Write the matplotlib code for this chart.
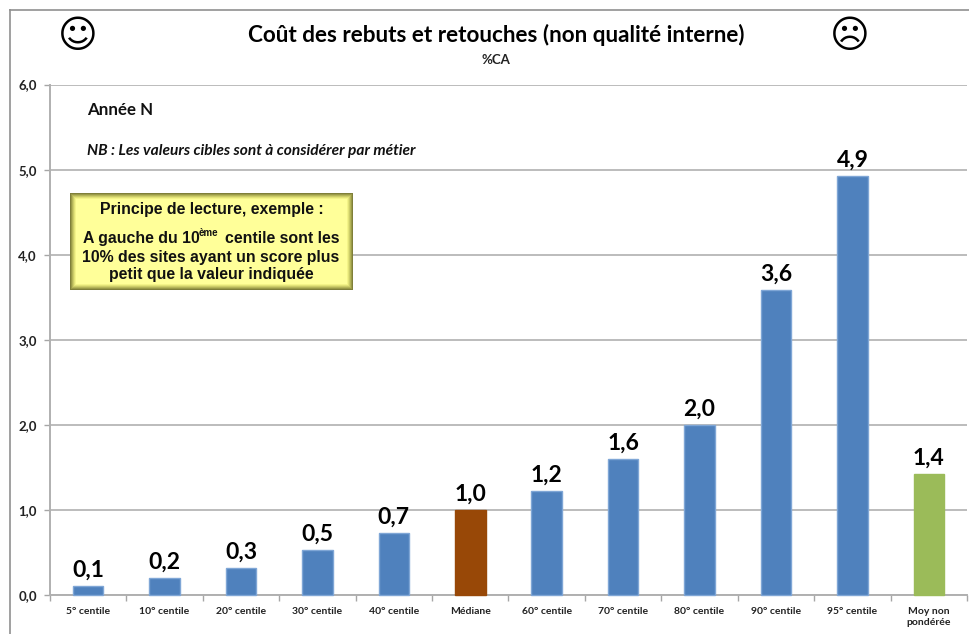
import matplotlib
matplotlib.use("Agg")
import matplotlib.pyplot as plt
from matplotlib.patches import Rectangle

categories = ["5° centile", "10° centile", "20° centile", "30° centile", "40° centile", "Médiane",
              "60° centile", "70° centile", "80° centile", "90° centile", "95° centile", "Moy non\npondérée"]
values = [0.10, 0.20, 0.32, 0.53, 0.73, 1.00, 1.22, 1.60, 2.00, 3.58, 4.92, 1.42]
colors = ["#4F81BD"] * 5 + ["#984807"] + ["#4F81BD"] * 5 + ["#9BBB59"]
edges = ["#7FA6D6"] * 5 + ["#984807"] + ["#7FA6D6"] * 5 + ["#9BBB59"]
yticks = [0, 1, 2, 3, 4, 5, 6]

W, H = 970, 634
FONT = "Lato"
GREY = "#A6A6A6"
fig = plt.figure(figsize=(W / 100, H / 100), dpi=100, facecolor="white")


def fx(x):
    return x / W


def fy(y):
    return 1 - y / H


L, R, T, B = 50, 967, 84.5, 595
ax = fig.add_axes([fx(L), fy(B), (R - L) / W, (B - T) / H])
x = list(range(len(values)))
ax.bar(x, values, width=0.40, color=colors, edgecolor=edges, linewidth=1.0, zorder=3, clip_on=False)
ax.set_xlim(-0.5, 11.5)
ax.set_ylim(0, 6)
ax.set_yticks(yticks)
ax.set_yticklabels([f"{v:.1f}".replace(".", ",") for v in yticks], fontname=FONT,
                   fontweight="bold", fontsize=9.5, color="#222222")
ax.set_xticks([i - 0.5 for i in range(13)], minor=False)
ax.set_xticklabels([])
ax.tick_params(axis="x", length=4, width=1, color=GREY, direction="out")
ax.tick_params(axis="y", length=4, width=1, color=GREY, pad=5.5)
ax.grid(axis="y", color="#A9A9A9", linewidth=1.1, zorder=0)
ax.set_axisbelow(True)
for s in ("top", "right"):
    ax.spines[s].set_visible(False)
for s in ("left", "bottom"):
    ax.spines[s].set_color("#B0B0B0")
    ax.spines[s].set_linewidth(1.4)

for i, (c, v) in enumerate(zip(categories, values)):
    ax.annotate(f"{v:.1f}".replace(".", ","), (i, v), xytext=(0, 4), textcoords="offset points",
                ha="center", va="bottom", fontname=FONT, fontweight="bold", fontsize=16.5, color="black", zorder=5)
    ax.annotate(c, (i, 0), xytext=(0, -8.5), textcoords="offset points", ha="center", va="top",
                fontname=FONT, fontweight="bold", fontsize=7.5, color="#222222", linespacing=1.3,
                annotation_clip=False)

# outer chart frame (left and top edges visible in the crop)
fig.add_artist(plt.Line2D([fx(10.5), fx(10.5)], [fy(634), fy(9.5)], color="#A0A0A0", lw=1.4))
fig.add_artist(plt.Line2D([fx(10.5), fx(970)], [fy(9.5), fy(9.5)], color="#909090", lw=1.2))

fig.text(fx(496), fy(35), "Coût des rebuts et retouches (non qualité interne)", ha="center", va="center",
         fontname=FONT, fontweight="bold", fontsize=16.2, color="black")
fig.text(fx(496), fy(60), "%CA", ha="center", va="center", fontname=FONT, fontweight="bold", fontsize=9.5, color="#222222")
fig.text(fx(87), fy(110), "Année N", ha="left", va="center", fontname=FONT, fontweight="bold", fontsize=12.2, color="#111111")
fig.text(fx(87), fy(150.5), "NB : Les valeurs cibles sont à considérer par métier", ha="left", va="center",
         fontname=FONT, fontweight="bold", style="italic", fontsize=11.2, color="#111111")

fig.text(fx(78), fy(37), "☺", ha="center", va="center", family="DejaVu Sans", fontsize=27.5, color="black")
fig.text(fx(850), fy(37), "☹", ha="center", va="center", family="DejaVu Sans", fontsize=27.5, color="black")

# yellow note with bevelled edges
bx0, by0, bx1, by1 = 70, 193, 353, 290
bevel = ["#7F7F3A", "#9A9A48", "#B4B458", "#CCCC68", "#E2E278", "#F4F488", "#FFFF99"]
for k, col in enumerate(bevel):
    fig.add_artist(Rectangle((fx(bx0 + k), fy(by1 - k)), (bx1 - bx0 - 2 * k) / W, (by1 - by0 - 2 * k) / H,
                             transform=fig.transFigure, facecolor=col, edgecolor="none", zorder=6))
note = dict(ha="center", va="center", family="Liberation Sans", fontweight="bold", fontsize=11.4, color="#111111", zorder=7)
fig.text(fx(212), fy(209.5), "Principe de lecture, exemple :", **note)
fig.text(fx(83), fy(238.5), "A gauche du 10", **{**note, "ha": "left"})
fig.text(fx(199), fy(233.5), "ème", **{**note, "ha": "left", "fontsize": 7})
fig.text(fx(225), fy(238.5), "centile sont les", **{**note, "ha": "left"})
fig.text(fx(211), fy(257.5), "10% des sites ayant un score plus", **note)
fig.text(fx(211), fy(274.5), "petit que la valeur indiquée", **note)

fig.savefig("out.png", dpi=100)
